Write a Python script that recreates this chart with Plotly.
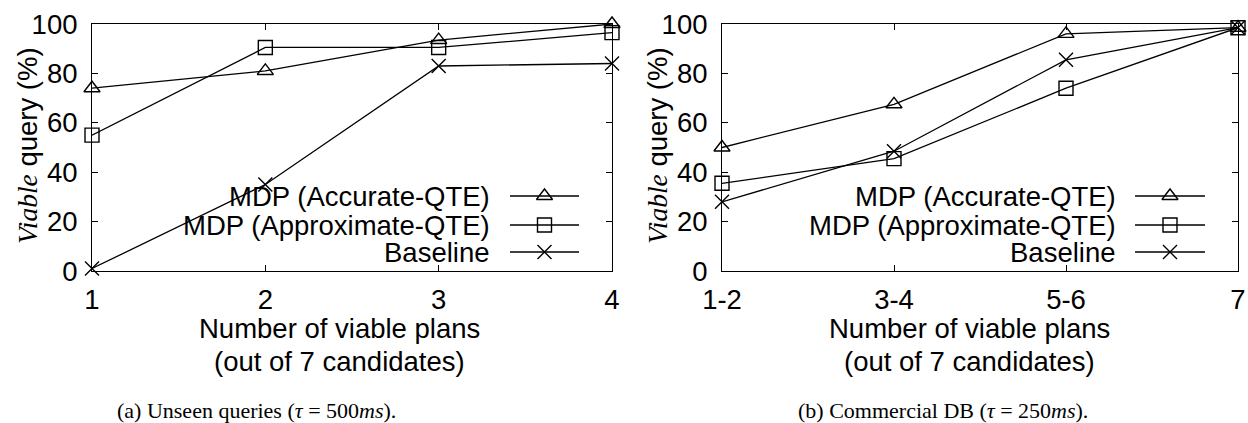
import plotly.graph_objects as go

# ---------------- data ----------------
series_names = ["MDP (Accurate-QTE)", "MDP (Approximate-QTE)", "Baseline"]
symbols = ["triangle-up-open", "square-open", "x-thin-open"]

cats_a = ["1", "2", "3", "4"]
accurate_a = [74, 81, 93.5, 100]
approx_a = [55, 90.5, 90.5, 96.5]
baseline_a = [1, 35, 83, 84]

cats_b = ["1-2", "3-4", "5-6", "7"]
accurate_b = [50, 67.5, 96, 98.5]
approx_b = [35.5, 45.5, 74, 98.5]
baseline_b = [28, 48.5, 85.5, 98.5]

y_ticks = [0, 20, 40, 60, 80, 100]

caption_a = "(a) Unseen queries (<i>τ</i> = 500<i>ms</i>)."
caption_b = "(b) Commercial DB (<i>τ</i> = 250<i>ms</i>)."
x_title_lines = ["Number of viable plans", "(out of 7 candidates)"]
y_title = "<span style='font-family:\"Liberation Serif\"'><i>Viable</i></span> query (%)"

# ---------------- layout constants ----------------
W, H = 1248, 423
SANS = "Liberation Sans"
SERIF = "Liberation Serif"
FS = 27.5
BLACK = "black"

def px_x(v):
    return v / W

def px_y(v):
    return 1 - v / H

fig = go.Figure()

panels = [
    (cats_a, [accurate_a, approx_a, baseline_a], "x", "y"),
    (cats_b, [accurate_b, approx_b, baseline_b], "x2", "y2"),
]

for cats, ys, xa, ya in panels:
    xs = list(range(len(cats)))
    for name, sym, yv in zip(series_names, symbols, ys):
        fig.add_trace(go.Scatter(
            x=xs, y=yv, mode="lines+markers", name=name,
            line=dict(color=BLACK, width=1.3),
            marker=dict(symbol=sym, size=14, color=BLACK,
                        line=dict(color=BLACK, width=1.4)),
            cliponaxis=False, showlegend=False,
            xaxis=xa, yaxis=ya,
        ))

# ---------- manual legend (keys on the right of the text, like gnuplot) ----------
legend_rows_px = [196, 225, 252]
legend_panels = [(612 - 120, 510, 579), (1238 - 120, 1135, 1205)]
for text_right, lx0, lx1 in legend_panels:
    for name, sym, ry in zip(series_names, symbols, legend_rows_px):
        fig.add_trace(go.Scatter(
            x=[lx0, lx1], y=[ry, ry], mode="lines",
            line=dict(color=BLACK, width=1.3),
            showlegend=False, hoverinfo="skip", xaxis="x3", yaxis="y3",
        ))
        fig.add_trace(go.Scatter(
            x=[(lx0 + lx1) / 2], y=[ry], mode="markers",
            marker=dict(symbol=sym, size=14, color=BLACK,
                        line=dict(color=BLACK, width=1.4)),
            showlegend=False, hoverinfo="skip", xaxis="x3", yaxis="y3",
            cliponaxis=False,
        ))
        fig.add_annotation(
            x=px_x(text_right), y=px_y(ry), xref="paper", yref="paper",
            text=name, showarrow=False, xanchor="right", yanchor="middle",
            font=dict(family=SANS, size=FS, color=BLACK),
        )

axis_common = dict(
    showline=True, linecolor=BLACK, linewidth=1, mirror="ticks",
    ticks="inside", ticklen=6, tickwidth=1, tickcolor=BLACK,
    showgrid=False, zeroline=False, automargin=False,
    tickfont=dict(family=SANS, size=FS, color=BLACK),
)

ydom = [px_y(271), px_y(24)]
fig.update_layout(
    template="none",
    width=W, height=H,
    margin=dict(l=0, r=0, t=0, b=0, pad=0, autoexpand=False),
    paper_bgcolor="white", plot_bgcolor="rgba(0,0,0,0)",
    showlegend=False,
    xaxis=dict(domain=[px_x(92), px_x(612)], range=[0, 3],
               tickvals=list(range(len(cats_a))), ticktext=cats_a,
               ticklabelstandoff=4, anchor="y", **axis_common),
    yaxis=dict(domain=ydom, range=[0, 100], tickvals=y_ticks,
               ticklabelstandoff=8, anchor="x", **axis_common),
    xaxis2=dict(domain=[px_x(722), px_x(1238)], range=[0, 3],
                tickvals=list(range(len(cats_b))), ticktext=cats_b,
                ticklabelstandoff=4, anchor="y2", **axis_common),
    yaxis2=dict(domain=ydom, range=[0, 100], tickvals=y_ticks,
                ticklabelstandoff=8, anchor="x2", **axis_common),
    xaxis3=dict(domain=[0, 1], range=[0, W], visible=False, anchor="y3",
                automargin=False),
    yaxis3=dict(domain=[0, 1], range=[H, 0], visible=False, anchor="x3",
                automargin=False),
)

# axis titles and captions
for cx, cap_x, cap in [(340, 256, caption_a), (969, 943, caption_b)]:
    for line_text, ly in zip(x_title_lines, [328, 361]):
        fig.add_annotation(
            x=px_x(cx), y=px_y(ly), xref="paper", yref="paper",
            text=line_text, showarrow=False, xanchor="center", yanchor="middle",
            font=dict(family=SANS, size=FS, color=BLACK),
        )
    fig.add_annotation(
        x=px_x(cap_x), y=px_y(410), xref="paper", yref="paper",
        text=cap, showarrow=False, xanchor="center", yanchor="middle",
        font=dict(family=SERIF, size=22, color=BLACK),
    )

for ty_x in [27, 657]:
    fig.add_annotation(
        x=px_x(ty_x), y=px_y(146), xref="paper", yref="paper",
        text=y_title, showarrow=False, textangle=-90,
        xanchor="center", yanchor="middle",
        font=dict(family=SANS, size=FS, color=BLACK),
    )

fig.write_html("out.html")
